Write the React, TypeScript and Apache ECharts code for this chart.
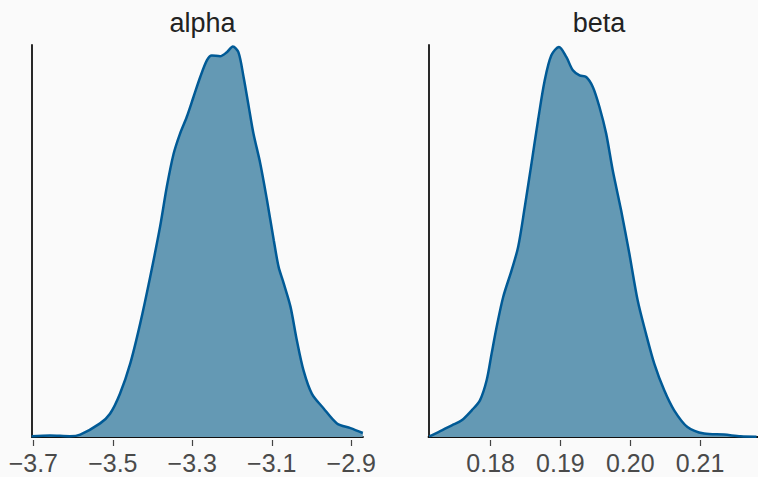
import React, { useEffect, useRef } from "react";
import * as echarts from "echarts";

// Posterior density estimates for the two parameters
const alphaX = [
  -3.704, -3.658, -3.608, -3.582, -3.532, -3.507, -3.482, -3.456, -3.431, -3.406,
  -3.381, -3.364, -3.347, -3.331, -3.314, -3.297, -3.28, -3.263, -3.251, -3.23,
  -3.213, -3.198, -3.184, -3.171, -3.158, -3.146, -3.129, -3.112, -3.095, -3.083,
  -3.07, -3.053, -3.037, -3.02, -2.999, -2.97, -2.936, -2.902, -2.871,
];
const alphaDensity = [
  0.01, 0.02, 0.01, 0.03, 0.17, 0.29, 0.54, 0.92, 1.42, 2.0,
  2.63, 3.13, 3.54, 3.79, 4.0, 4.25, 4.5, 4.71, 4.77, 4.76,
  4.81, 4.88, 4.81, 4.5, 4.13, 3.79, 3.42, 2.96, 2.46, 2.13,
  1.92, 1.63, 1.21, 0.83, 0.54, 0.36, 0.17, 0.11, 0.05,
];
const betaX = [
  0.1712, 0.17253, 0.17444, 0.17586, 0.17729, 0.17847, 0.17943, 0.18014, 0.18086, 0.1818,
  0.183, 0.18394, 0.18489, 0.18585, 0.18679, 0.18775, 0.1887, 0.18979, 0.19084, 0.19178,
  0.19274, 0.19369, 0.19464, 0.19559, 0.19655, 0.19749, 0.19869, 0.19987, 0.20106, 0.20225,
  0.20344, 0.20487, 0.20629, 0.20819, 0.21057, 0.21342, 0.21581, 0.21809,
];
const betaDensity = [
  0.1, 0.71, 1.67, 2.39, 3.81, 5.24, 8.1, 11.91, 15.71, 20.0,
  23.81, 27.14, 32.86, 39.06, 45.24, 50.96, 54.53, 55.71, 54.29, 52.39,
  51.67, 51.43, 50.0, 47.14, 43.34, 38.1, 32.39, 26.2, 19.53, 14.77,
  10.49, 6.67, 3.81, 1.43, 0.49, 0.34, 0.1, 0.04,
];

const panelTitles = ["alpha", "beta"];
const alphaTicks = [-3.7, -3.5, -3.3, -3.1, -2.9];
const betaTicks = [0.18, 0.19, 0.2, 0.21];

const LINE = "#005a96";
const FILL = "#6499b4";
const FONT = "'Liberation Sans', Arial, Helvetica, sans-serif";

const fmt = (digits: number) => (v: number) =>
  v.toFixed(digits).replace("-", "\u2212");

export default function App() {
  const ref = useRef<HTMLDivElement>(null);

  useEffect(() => {
    if (!ref.current) return;
    const chart = echarts.init(ref.current, undefined, { renderer: "svg" });

    const grids = [
      { left: 32, top: 45, width: 331, height: 392 },
      { left: 428.5, top: 45, width: 331, height: 392 },
    ];
    const ranges = [
      { min: -3.7033, max: -2.8705, ticks: alphaTicks, digits: 1 },
      { min: 0.1711, max: 0.2183, ticks: betaTicks, digits: 2 },
    ];
    const yMax = [4.9, 56];

    const xAxis: any[] = [];
    ranges.forEach((r, i) => {
      // spine
      xAxis.push({
        type: "value",
        gridIndex: i,
        position: "bottom",
        min: r.min,
        max: r.max,
        axisLine: { show: true, lineStyle: { color: "#111", width: 1.8 } },
        axisTick: { show: false },
        axisLabel: { show: false },
        splitLine: { show: false },
      });
      // ticks and labels, set slightly below the spine
      xAxis.push({
        type: "value",
        gridIndex: i,
        position: "bottom",
        min: r.min,
        max: r.max,
        offset: 3,
        axisLine: { show: false },
        axisTick: {
          show: true,
          length: 6,
          customValues: r.ticks,
          lineStyle: { color: "#444", width: 1.2 },
        },
        axisLabel: {
          show: true,
          customValues: r.ticks,
          formatter: fmt(r.digits),
          color: "#4a4a4a",
          fontSize: 25,
          fontFamily: FONT,
          margin: 10,
          showMinLabel: true,
          showMaxLabel: true,
        },
        splitLine: { show: false },
      });
    });

    const yAxis = yMax.map((m, i) => ({
      type: "value",
      gridIndex: i,
      min: 0,
      max: m,
      axisLine: { show: true, lineStyle: { color: "#111", width: 1.8 } },
      axisTick: { show: false },
      axisLabel: { show: false },
      splitLine: { show: false },
    }));

    const mk = (xs: number[], ys: number[]) => xs.map((x, k) => [x, ys[k]]);
    const seriesData = [mk(alphaX, alphaDensity), mk(betaX, betaDensity)];

    chart.setOption({
      animation: false,
      backgroundColor: "#fafafa",
      title: panelTitles.map((t, i) => ({
        text: t,
        left: grids[i].left + grids[i].width / 2,
        top: 4,
        textAlign: "center",
        textStyle: {
          color: "#222",
          fontSize: 27,
          fontWeight: "normal",
          fontFamily: FONT,
        },
      })),
      grid: grids,
      xAxis,
      yAxis,
      series: seriesData.map((d, i) => ({
        type: "line",
        xAxisIndex: i * 2,
        yAxisIndex: i,
        data: d,
        smooth: 0.3,
        showSymbol: false,
        clip: true,
        lineStyle: { color: LINE, width: 2.5 },
        areaStyle: { color: FILL, opacity: 1 },
        z: 3,
      })),
    });

    return () => chart.dispose();
  }, []);

  return (
    <div
      ref={ref}
      style={{ position: "fixed", left: 0, top: 0, width: 758, height: 477 }}
    />
  );
}
